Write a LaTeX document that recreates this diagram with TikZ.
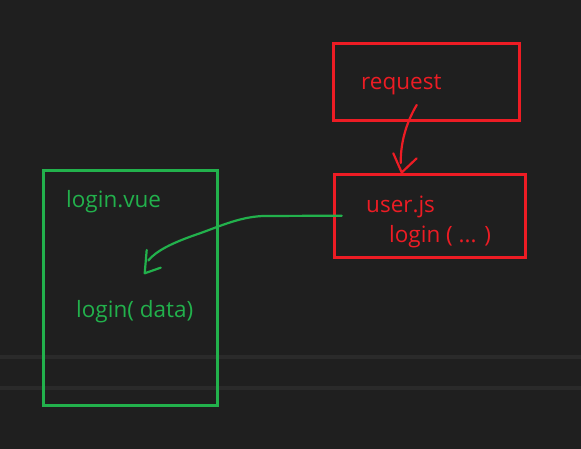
\documentclass[tikz,border=0pt]{standalone}
\usepackage{fontspec}
\setmainfont{Open Sans}
\definecolor{bg}{HTML}{1F1F1F}
\definecolor{guideline}{HTML}{2A2A2A}
\definecolor{myred}{HTML}{ED1C24}
\definecolor{mygreen}{HTML}{22B14C}
\begin{document}
\begin{tikzpicture}[x=1pt,y=-1pt,
  redbox/.style={draw=myred, line width=3pt, inner sep=0pt, outer sep=0pt},
  greenbox/.style={draw=mygreen, line width=3pt, inner sep=0pt, outer sep=0pt},
  redtxt/.style={text=myred, font=\fontsize{22.5}{26}\selectfont, inner sep=0pt, anchor=base west},
  greentxt/.style={text=mygreen, font=\fontsize{22.5}{26}\selectfont, inner sep=0pt, anchor=base west},
  redpen/.style={draw=myred, line width=2.2pt, line cap=round, line join=round},
  greenpen/.style={draw=mygreen, line width=2.2pt, line cap=round, line join=round},
  guide/.style={draw=guideline, line width=4pt}]
\fill[bg] (0,0) rectangle (581,449);
\useasboundingbox (0,0) rectangle (581,449);
% faint horizontal guide lines
\draw[guide] (0,357) -- (581,357);
\draw[guide] (0,388) -- (581,388);
% boxes
\node[redbox, minimum width=186pt, minimum height=77pt] (req) at (426,82.5) {};
\node[redbox, minimum width=191pt, minimum height=82pt] (user) at (429.5,216) {};
\node[greenbox, minimum width=174pt, minimum height=234pt] (vue) at (130,288) {};
% texts
\node[redtxt] (reqtxt) at (361,89.5) {request};
\node[redtxt] (usertxt) at (366,213) {user.js};
\node[redtxt] (logintxt) at (389,243) {login ( ... )};
\node[greentxt] (vuetxt) at (66,208) {login.vue};
\node[greentxt] (datatxt) at (76,317) {login( data)};
% red arrow request -> user.js
\coordinate (rs) at (416.7,105);
\coordinate (re) at (400.7,163);
\coordinate (rhl) at (393.3,153.3);
\coordinate (rtip) at (401.7,172.5);
\coordinate (rhr) at (416.7,158.3);
\draw[redpen] (rs) .. controls (409,118) and (400.5,138) .. (re);
\draw[redpen] (rhl) -- (rtip) -- (rhr);
% green arrow user.js -> login.vue
\coordinate (gs) at (341.7,215.7);
\coordinate (gm) at (263,216);
\coordinate (gk) at (195,235);
\coordinate (ge) at (148.3,260.5);
\coordinate (ghl) at (146.7,250);
\coordinate (gtip) at (144.7,273.3);
\coordinate (ghr) at (160.7,267.7);
\draw[greenpen] (gs) -- (gm) .. controls (238,217) and (216,228) .. (gk) .. controls (172,243) and (156,251) .. (ge);
\draw[greenpen] (ghl) -- (gtip) -- (ghr);
\end{tikzpicture}
\end{document}
